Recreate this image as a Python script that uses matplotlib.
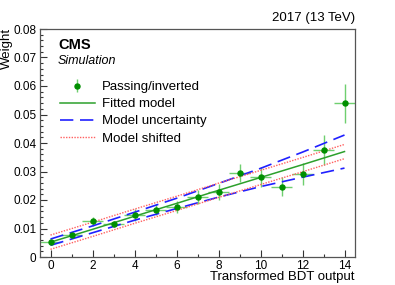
import matplotlib
matplotlib.use("Agg")
import matplotlib.pyplot as plt
from matplotlib.ticker import MultipleLocator, FuncFormatter

plt.rcParams['font.family'] = ['Liberation Sans', 'DejaVu Sans']

# data
bdt = [0, 1, 2, 3, 4, 5, 6, 7, 8, 9, 10, 11, 12, 13, 14]
weight = [0.0052, 0.0077, 0.0125, 0.0116, 0.0147, 0.0166, 0.0177, 0.0211,
          0.0229, 0.0294, 0.0280, 0.0247, 0.0290, 0.0375, 0.0539]
weight_err = [0.0005, 0.0008, 0.0015, 0.0012, 0.0020, 0.0020, 0.0021, 0.0024,
              0.0028, 0.0032, 0.0035, 0.0032, 0.0039, 0.0052, 0.0069]
bin_half_width = [0.5] * 15

model_x = [0, 2, 4, 6, 8, 10, 12, 14]
fitted = [0.0052, 0.0097, 0.0143, 0.0188, 0.0234, 0.0279, 0.0324, 0.0370]
unc_up = [0.0063, 0.0109, 0.0157, 0.0206, 0.0258, 0.0311, 0.0368, 0.0428]
unc_down = [0.0041, 0.0085, 0.0129, 0.0170, 0.0210, 0.0247, 0.0280, 0.0312]
shift_up = [0.0077, 0.0122, 0.0168, 0.0213, 0.0259, 0.0304, 0.0349, 0.0395]
shift_down = [0.0027, 0.0072, 0.0118, 0.0163, 0.0209, 0.0254, 0.0299, 0.0345]

labels = ['Passing/inverted', 'Fitted model', 'Model uncertainty', 'Model shifted']

W, H = 395, 285
fig = plt.figure(figsize=(W / 100, H / 100), dpi=100)
ax = fig.add_axes([40 / W, (H - 257) / H, (355 - 40) / W, (257 - 29) / H])

green_pt = '#008f00'
green_err = '#6fcf6f'
green_line = '#2ca02c'
blue = '#2020ff'
red = '#ff6060'

ax.errorbar(bdt, weight, yerr=weight_err, xerr=bin_half_width, fmt='none',
            ecolor=green_err, elinewidth=1.0, capsize=0, zorder=2)
ax.plot(bdt, weight, linestyle='none', marker='o', markersize=3.6,
        color=green_pt, zorder=5)
eb = ax.errorbar([], [], yerr=[], fmt='o', markersize=3.6, color=green_pt,
                 ecolor=green_err, elinewidth=1.0, capsize=0)

fl, = ax.plot(model_x, fitted, color=green_line, lw=1.1, zorder=4)
u1, = ax.plot(model_x, unc_up, color=blue, lw=1.2, dashes=(8, 4), zorder=3)
ax.plot(model_x, unc_down, color=blue, lw=1.2, dashes=(8, 4), zorder=3)
s1, = ax.plot(model_x, shift_up, color=red, lw=1.0, linestyle=(0, (1, 1)), zorder=3)
ax.plot(model_x, shift_down, color=red, lw=1.0, linestyle=(0, (1, 1)), zorder=3)

ax.set_xlim(-0.5, 14.5)
ax.set_ylim(0, 0.08)

ax.xaxis.set_major_locator(MultipleLocator(2))
ax.xaxis.set_minor_locator(MultipleLocator(1))
ax.yaxis.set_major_locator(MultipleLocator(0.01))
ax.yaxis.set_minor_locator(MultipleLocator(0.002))
ax.yaxis.set_major_formatter(FuncFormatter(lambda v, p: '0' if abs(v) < 1e-9 else f'{v:.2f}'))

ax.tick_params(which='both', direction='in', top=False, right=False,
               labelsize=8.5, color='#333333', width=0.8)
ax.tick_params(which='major', length=5, pad=2.5)
ax.tick_params(which='minor', length=2.5)
for s in ax.spines.values():
    s.set_color('#555555')
    s.set_linewidth(0.9)

fig.text(7 / W, 1 - 28 / H, 'Weight', rotation=90, ha='center', va='top', fontsize=9.5)
fig.text(355 / W, 1 - 280 / H, 'Transformed BDT output', ha='right', va='baseline', fontsize=9.5)
fig.text(355 / W, 1 - 21 / H, '2017 (13 TeV)', ha='right', va='baseline', fontsize=9.5)
ax.text((58 - 40) / 315, 1 - (49 - 29) / 228, 'CMS', transform=ax.transAxes,
        fontsize=10.5, fontweight='bold', ha='left', va='baseline')
ax.text((58 - 40) / 315, 1 - (64 - 29) / 228, 'Simulation', transform=ax.transAxes,
        fontsize=9, style='italic', ha='left', va='baseline')

ax.legend([eb, fl, u1, s1], labels,
          loc='upper left', bbox_to_anchor=((60 - 40) / 315, 1 - (81 - 29) / 228),
          frameon=False, fontsize=9.5, handlelength=2.65, handletextpad=0.5,
          labelspacing=0.37, borderpad=0, borderaxespad=0)

fig.savefig('out.png', dpi=100)
